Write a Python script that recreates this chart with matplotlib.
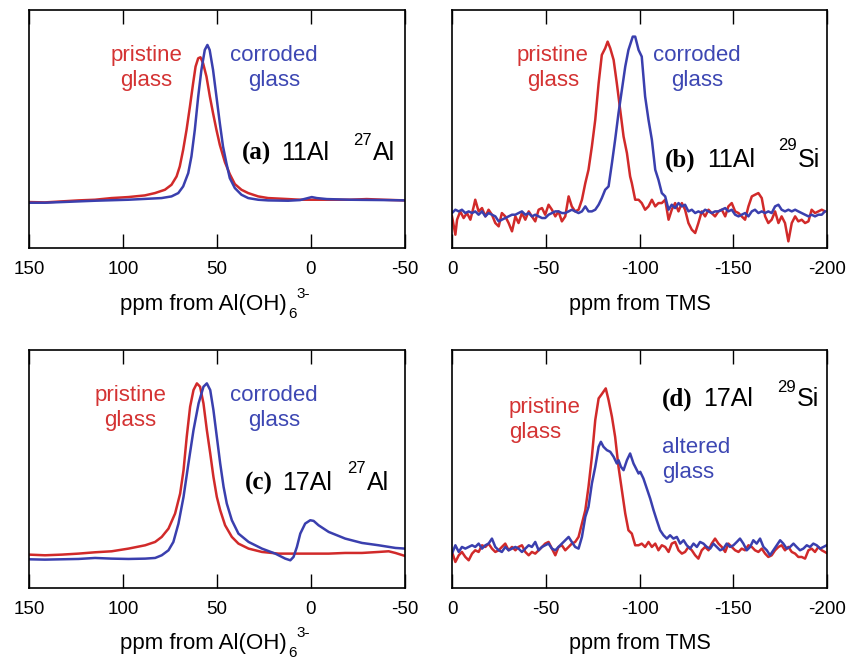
import matplotlib
matplotlib.use("Agg")
import matplotlib.pyplot as plt

plt.rcParams['axes.unicode_minus'] = False
plt.rcParams['font.family'] = ['Liberation Sans', 'DejaVu Sans']

RED = "#d12a2a"
BLUE = "#3a3fae"

# ---------------- (a) 11Al 27Al ----------------
a_red_ppm = [150, 141.5, 132.6, 123.8, 114.9, 106.1, 97.2, 88.4, 83.0, 77.7, 74.2, 71.5, 69.8, 68.0,
             66.2, 64.4, 62.7, 61.4, 60.0, 58.8, 57.4, 55.6, 53.8, 52.1, 50.3, 48.5, 45.8, 43.2,
             40.5, 37.0, 33.4, 28.1, 22.8, 15.7, 12.2, 5.8, -3.1, -11.9, -20.8, -29.6, -38.5, -50]
a_red_int = [138, 137, 140, 143, 145, 150, 153, 158, 165, 175, 190, 215, 245, 295,
             355, 425, 495, 545, 570, 573, 555, 515, 455, 405, 355, 310, 258, 222,
             192, 175, 165, 155, 150, 148, 147, 145, 145, 145, 145, 147, 145, 143]
a_blue_ppm = [150, 141.5, 132.6, 114.9, 97.2, 79.5, 74.2, 70.6, 68.0, 65.3, 63.6, 61.8, 60.0, 58.3,
              56.5, 55.1, 53.9, 52.1, 50.3, 48.5, 46.8, 45.0, 43.2, 40.5, 37.0, 33.4, 28.1, 22.8,
              12.2, 5.8, 2.3, -0.4, -3.1, -8.4, -20.8, -38.5, -50]
a_blue_int = [136, 136, 138, 142, 145, 150, 155, 165, 185, 225, 275, 355, 455, 535,
              595, 610, 595, 535, 455, 375, 305, 255, 210, 180, 160, 150, 145, 143,
              142, 144, 149, 153, 150, 147, 145, 144, 143]

# ---------------- (b) 11Al 29Si ----------------
b_red_ppm = [0, -1.8, -2.7, -4.4, -6.2, -8.0, -9.8, -11.6, -12.4, -14.2, -16.0, -17.8, -19.5, -21.3,
             -23.1, -24.9, -26.6, -28.4, -30.2, -32.0, -33.8, -35.5, -37.3, -39.1, -40.9, -42.6,
             -44.4, -46.2, -48.0, -49.7, -51.5, -53.3, -55.1, -56.8, -58.6, -60.4, -62.2, -63.9,
             -65.7, -67.5, -69.3, -71.1, -72.8, -74.6, -76.4, -78.2, -79.9, -81.7, -83.0, -84.4,
             -86.2, -87.9, -89.7, -91.5, -93.3, -95.0, -95.9, -97.7,
             -99.5, -101.2, -103.0, -104.8, -106.6, -108.4, -110.1, -111.9, -113.7, -115.5,
             -117.2, -119.0, -120.8, -122.6, -124.3, -126.1, -127.9, -129.7, -131.4, -133.2,
             -135.0, -136.8, -138.5, -140.3, -142.1, -143.9, -145.7, -147.4, -149.2, -151.0,
             -152.8, -154.5, -156.3, -158.1, -159.9, -161.6, -163.4, -165.2, -167.0, -168.7,
             -170.5, -172.3, -174.1, -175.8, -177.6, -179.4, -181.2, -183.0, -184.7, -186.5,
             -188.3, -190.1, -191.8, -193.6, -195.4, -197.2, -198.9]
b_red_int = [95, 40, 85, 110, 90, 105, 85, 125, 145, 110, 120, 95, 115, 100,
             75, 65, 105, 95, 75, 50, 95, 75, 105, 85, 110, 95,
             80, 115, 120, 100, 130, 115, 95, 110, 80, 95, 155, 125,
             110, 115, 145, 195, 235, 305, 385, 495, 580, 600, 620, 600,
             565, 495, 415, 335, 285, 215, 195, 145,
             145, 135, 115, 125, 145, 125, 135, 135, 145, 85,
             115, 135, 110, 135, 115, 75, 55, 45, 75, 110,
             95, 115, 105, 95, 110, 115, 95, 125, 135, 110,
             105, 95, 85, 125, 155, 160, 165, 150, 95, 75,
             85, 110, 75, 95, 75, 20, 75, 95, 80, 85,
             75, 80, 115, 105, 110, 115, 110]
b_blue_ppm = [0, -1.8, -3.6, -5.3, -7.1, -8.9, -10.7, -12.4, -14.2, -16.0, -17.8, -19.5, -21.3,
              -23.1, -24.9, -26.6, -28.4, -30.2, -32.0, -33.8, -35.5, -37.3, -39.1, -40.9, -42.6,
              -44.4, -46.2, -48.0, -49.7, -51.5, -53.3, -55.1, -56.8, -58.6, -60.4, -62.2, -63.9,
              -65.7, -67.5, -69.3, -71.1, -72.8, -74.6, -76.4, -78.2, -79.9, -81.7, -83.5, -85.3,
              -87.0, -88.8, -90.6, -92.4, -94.1, -96.4, -97.7, -99.5, -101.2, -103.0, -104.8,
              -106.6, -108.4, -110.1, -111.9, -113.7, -115.5, -117.2, -119.0, -120.8, -122.6,
              -124.3, -126.1, -127.9, -129.7, -131.4, -133.2, -135.0, -136.8, -138.5, -140.3,
              -142.1, -143.9, -145.7, -147.4, -149.2, -151.0, -152.8, -154.5, -156.3, -158.1,
              -159.9, -161.6, -163.4, -165.2, -167.0, -168.7, -170.5, -172.3, -174.1, -175.8,
              -177.6, -179.4, -181.2, -183.0, -184.7, -186.5, -188.3, -190.1, -191.8, -193.6,
              -195.4, -197.2, -198.9]
b_blue_int = [105, 115, 110, 115, 105, 110, 105, 110, 100, 110, 95, 105, 100,
              95, 80, 85, 90, 95, 100, 100, 105, 110, 100, 105, 95,
              100, 95, 90, 90, 100, 105, 110, 110, 105, 105, 110, 115,
              110, 105, 110, 125, 110, 110, 115, 130, 150, 175, 185, 255,
              325, 405, 475, 545, 595, 635, 635, 595, 575, 455, 385,
              325, 235, 205, 165, 155, 115, 130, 120, 135, 125,
              130, 110, 115, 105, 110, 105, 115, 110, 105, 110,
              110, 115, 120, 110, 115, 100, 95, 100, 105, 95,
              110, 115, 105, 110, 105, 110, 105, 125, 130, 115,
              110, 115, 110, 115, 110, 105, 100, 95, 100, 95,
              100, 100, 110]

# ---------------- (c) 17Al 27Al ----------------
c_red_ppm = [150, 141.5, 132.6, 123.7, 114.9, 106.0, 97.1, 88.2, 82.9, 79.4, 75.8, 72.3, 69.6, 67.8,
             66.1, 64.3, 62.5, 60.7, 59.0, 57.2, 55.4, 53.6, 51.9, 50.1, 48.3, 45.7, 42.1, 38.6,
             33.2, 26.1, 17.3, 8.4, -0.5, -9.4, -18.2, -27.1, -36.0, -41.3, -44.9, -50]
c_red_int = [100, 98, 100, 103, 107, 110, 118, 128, 138, 153, 178, 223, 283, 353,
             453, 543, 593, 613, 603, 553, 473, 403, 333, 273, 233, 188, 153, 133,
             118, 108, 103, 103, 103, 103, 105, 105, 108, 110, 105, 96]
c_blue_ppm = [150, 141.5, 132.6, 123.7, 114.9, 106.0, 97.1, 88.2, 82.9, 79.4, 75.8, 73.2, 70.5, 67.8,
              65.2, 62.5, 59.8, 57.2, 55.4, 53.6, 51.9, 50.1, 48.3, 46.5, 44.8, 42.1, 38.6, 33.2,
              26.1, 19.0, 13.7, 11.0, 9.3, 7.5, 5.7, 3.1, 0.4, -1.4, -4.0, -9.4, -18.2, -27.1,
              -36.0, -44.9, -50]
c_blue_int = [86, 85, 86, 87, 90, 88, 87, 88, 90, 98, 113, 138, 193, 273,
              373, 473, 553, 603, 613, 593, 533, 453, 373, 303, 253, 203, 163, 138,
              118, 103, 88, 83, 93, 123, 163, 193, 203, 201, 188, 168, 148, 135,
              128, 120, 118]

# ---------------- (d) 17Al 29Si ----------------
d_red_ppm = [0, -1.8, -3.6, -5.3, -7.1, -8.9, -10.7, -12.4, -14.2, -16.0, -17.8, -19.5, -21.3,
             -23.1, -24.9, -26.6, -28.4, -30.2, -32.0, -33.8, -35.5, -37.3, -39.1, -40.9, -42.6,
             -44.4, -46.2, -48.0, -49.7, -51.5, -53.3, -55.1, -56.8, -58.6, -60.4, -62.2, -63.9,
             -65.7, -67.5, -69.3, -71.1, -72.8, -74.6, -76.4, -78.2, -79.9, -82.0, -83.5, -85.3,
             -87.0, -88.8, -90.6, -92.4, -94.1, -95.9, -97.7,
             -99.5, -101.2, -103.0, -104.8, -106.6, -108.4, -110.1, -111.9, -113.7, -115.5,
             -117.2, -119.0, -120.8, -122.6, -124.3, -126.1, -127.9, -129.7, -131.4, -133.2,
             -135.0, -136.8, -138.5, -140.3, -142.1, -143.9, -145.7, -147.4, -149.2, -151.0,
             -152.8, -154.5, -156.3, -158.1, -159.9, -161.6, -163.4, -165.2, -167.0, -168.7,
             -170.5, -172.3, -174.1, -175.8, -177.6, -179.4, -181.2, -183.0, -184.7, -186.5,
             -188.3, -190.1, -191.8, -193.6, -195.4, -197.2, -199.8]
d_red_int = [108, 78, 98, 108, 93, 83, 103, 113, 108, 128, 123, 133, 118,
             108, 113, 123, 133, 113, 123, 113, 123, 128, 108, 98, 108,
             103, 113, 123, 133, 138, 118, 98, 123, 128, 113, 123, 133,
             138, 153, 193, 233, 303, 393, 503, 568, 581, 598, 563, 513,
             453, 363, 293, 223, 173, 163, 128,
             128, 133, 123, 138, 123, 133, 113, 128, 123, 108,
             133, 138, 113, 103, 108, 123, 113, 98, 88, 113,
             123, 113, 133, 148, 133, 123, 108, 133, 123, 113,
             108, 118, 113, 128, 123, 113, 108, 118, 103, 93,
             98, 113, 123, 128, 113, 123, 108, 103, 93, 93,
             88, 113, 118, 108, 123, 113, 105]
d_blue_ppm = [0, -1.8, -3.6, -5.3, -7.1, -8.9, -10.7, -12.4, -14.2, -16.0, -17.8, -19.5, -21.3,
              -23.1, -24.9, -26.6, -28.4, -30.2, -32.0, -33.8, -35.5, -37.3, -39.1, -40.9, -42.6,
              -44.4, -46.2, -48.0, -49.7, -51.5, -53.3, -55.1, -56.8, -58.6, -60.4, -62.2, -63.9,
              -65.7, -67.5, -69.3, -71.1, -72.8, -74.6, -76.4, -78.2, -79.4, -80.8, -82.6, -84.4,
              -86.2, -87.9, -88.8, -90.1, -91.5, -93.3, -95.0, -96.8, -99.5,
              -100.4, -102.1, -103.9, -105.7, -107.5, -109.2, -111.0, -112.8, -114.6, -116.3,
              -118.1, -119.9, -121.7, -123.5, -125.2, -127.0, -128.8, -130.6, -132.3, -134.1,
              -135.9, -137.7, -139.4, -141.2, -143.0, -144.8, -146.5, -148.3, -150.1, -151.9,
              -153.6, -155.4, -157.2, -159.0, -160.7, -162.5, -164.3, -166.1, -167.9, -169.6,
              -171.4, -173.2, -175.0, -176.7, -178.5, -180.3, -182.1, -183.8, -185.6, -187.4,
              -189.2, -190.9, -192.7, -194.5, -196.3, -198.1, -199.8]
d_blue_int = [103, 128, 108, 123, 118, 123, 128, 123, 133, 118, 128, 133, 148,
              123, 113, 108, 123, 113, 118, 123, 118, 108, 118, 128, 123,
              138, 113, 123, 128, 133, 118, 113, 123, 133, 143, 153, 138,
              123, 118, 153, 213, 243, 313, 363, 423, 438, 423, 413, 408,
              393, 373, 383, 363, 353, 383, 403, 373, 343,
              348, 328, 298, 268, 233, 203, 173, 158, 148, 158,
              148, 153, 133, 143, 128, 118, 133, 123, 138, 133,
              123, 118, 133, 123, 113, 118, 133, 123, 128, 138,
              148, 133, 113, 123, 143, 133, 148, 123, 113, 98,
              113, 128, 143, 133, 118, 123, 133, 123, 113, 118,
              128, 123, 133, 128, 118, 123, 128]

W, H = 856, 663
fig = plt.figure(figsize=(W / 100, H / 100), dpi=100)


def add_ax(left, top, right, bottom):
    return fig.add_axes([left / W, 1 - bottom / H, (right - left) / W, (bottom - top) / H])


def style(ax, xlim, ticks, ymax):
    ax.set_xlim(*xlim)
    ax.set_ylim(0, ymax)
    ax.set_xticks(ticks)
    ax.set_xticklabels([str(t) for t in ticks])
    ax.set_yticks([])
    ax.tick_params(axis='x', which='major', direction='in', length=10, width=1.0,
                   top=True, bottom=True, labelsize=13.5, pad=9)
    for s in ax.spines.values():
        s.set_linewidth(1.2)


def ptext(x, y, s, **kw):
    fig.text(x / W, 1 - y / H, s, **kw)


LW = 1.8

axa = add_ax(29, 10, 405, 248)
axa.plot(a_red_ppm, a_red_int, color=RED, lw=LW)
axa.plot(a_blue_ppm, a_blue_int, color=BLUE, lw=LW)
style(axa, (150, -50), [150, 100, 50, 0, -50], 715)

axb = add_ax(452, 10, 827, 248)
axb.plot(b_red_ppm, b_red_int, color=RED, lw=LW)
axb.plot(b_blue_ppm, b_blue_int, color=BLUE, lw=LW)
style(axb, (0, -200), [0, -50, -100, -150, -200], 715)

axc = add_ax(29, 350, 405, 588)
axc.plot(c_red_ppm, c_red_int, color=RED, lw=LW)
axc.plot(c_blue_ppm, c_blue_int, color=BLUE, lw=LW)
style(axc, (150, -50), [150, 100, 50, 0, -50], 713)

axd = add_ax(452, 350, 827, 588)
axd.plot(d_red_ppm, d_red_int, color=RED, lw=LW)
axd.plot(d_blue_ppm, d_blue_int, color=BLUE, lw=LW)
style(axd, (0, -200), [0, -50, -100, -150, -200], 713)

XL = 15.5
ptext(640, 310, "ppm from TMS", ha='center', va='baseline', fontsize=XL)
ptext(640, 649, "ppm from TMS", ha='center', va='baseline', fontsize=XL)
for yb in (310, 649):
    ptext(120, yb, "ppm from Al(OH)", ha='left', va='baseline', fontsize=16)
    ptext(288, yb + 8, "6", ha='left', va='baseline', fontsize=11)
    ptext(296, yb - 12, "3-", ha='left', va='baseline', fontsize=11)

LS = 16
TRED = "#d43333"
TBLUE = "#3d47b3"
# (a)
ptext(146, 61, "pristine", ha='center', va='baseline', fontsize=LS, color=TRED)
ptext(146, 86, "glass", ha='center', va='baseline', fontsize=LS, color=TRED)
ptext(274, 61, "corroded", ha='center', va='baseline', fontsize=LS, color=TBLUE)
ptext(274, 86, "glass", ha='center', va='baseline', fontsize=LS, color=TBLUE)
# (b)
ptext(553, 61, "pristine", ha='center', va='baseline', fontsize=LS, color=TRED)
ptext(553, 86, "glass", ha='center', va='baseline', fontsize=LS, color=TRED)
ptext(697, 61, "corroded", ha='center', va='baseline', fontsize=LS, color=TBLUE)
ptext(697, 86, "glass", ha='center', va='baseline', fontsize=LS, color=TBLUE)
# (c)
ptext(130, 401, "pristine", ha='center', va='baseline', fontsize=LS, color=TRED)
ptext(130, 426, "glass", ha='center', va='baseline', fontsize=LS, color=TRED)
ptext(274, 401, "corroded", ha='center', va='baseline', fontsize=LS, color=TBLUE)
ptext(274, 426, "glass", ha='center', va='baseline', fontsize=LS, color=TBLUE)
# (d)
ptext(509, 413, "pristine", ha='left', va='baseline', fontsize=LS, color=TRED)
ptext(509, 438, "glass", ha='left', va='baseline', fontsize=LS, color=TRED)
ptext(662, 453, "altered", ha='left', va='baseline', fontsize=LS, color=TBLUE)
ptext(662, 478, "glass", ha='left', va='baseline', fontsize=LS, color=TBLUE)

PS = 18
SUP = 12


def panel_label(x0, xnum, xsup, xel, yb, ysup, tag, num, iso, el):
    ptext(x0, yb, tag, ha='left', va='baseline', fontsize=PS, fontweight='bold',
          family=['Liberation Serif', 'DejaVu Serif'])
    ptext(xnum, yb, num, ha='left', va='baseline', fontsize=PS)
    ptext(xsup, ysup, iso, ha='left', va='baseline', fontsize=SUP)
    ptext(xel, yb, el, ha='left', va='baseline', fontsize=PS)


panel_label(242, 281, 353, 373, 160, 145, "(a)", "11Al", "27", "Al")
panel_label(665, 707, 778, 798, 167, 150, "(b)", "11Al", "29", "Si")
panel_label(245, 282, 347, 367, 490, 473, "(c)", "17Al", "27", "Al")
panel_label(662, 703, 777, 797, 406, 392, "(d)", "17Al", "29", "Si")

fig.savefig("out.png", dpi=100)
